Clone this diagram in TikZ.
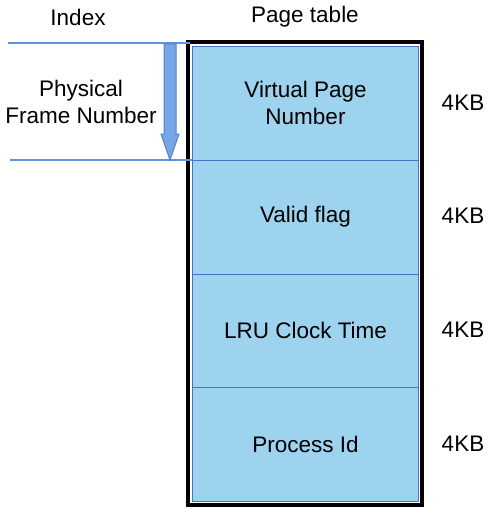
\documentclass[tikz,border=0pt]{standalone}
\usepackage{fontspec}
\setmainfont{Liberation Sans}
\definecolor{cellfill}{RGB}{157,211,238}
\definecolor{celledge}{RGB}{68,114,196}
\definecolor{linecol}{RGB}{96,148,222}
\definecolor{arrowfill}{RGB}{120,165,230}
\definecolor{arrowedge}{RGB}{80,130,210}
\begin{document}
\begin{tikzpicture}[x=1pt,y=-1pt,
  cell/.style={draw=celledge,fill=cellfill,line width=1pt,minimum width=226pt,minimum height=113.75pt,inner sep=0pt,anchor=north west,font=\fontsize{22.5}{26}\selectfont,align=center},
  lbl/.style={font=\fontsize{22.5}{26}\selectfont,align=center,inner sep=0pt},
  guide/.style={draw=linecol,line width=2.8pt}]
\useasboundingbox (0,0) rectangle (493,516);
\node[cell] (c1) at (192,46) {Virtual Page\\[1pt]Number};
\node[cell] (c2) at (192,159.75) {Valid flag};
\node[cell] (c3) at (192,273.5) {LRU Clock Time};
\node[cell] (c4) at (192,387.25) {Process Id};
\draw[line width=3.5pt] (188,42) rectangle (422,505);
\node[lbl] (k1) at (463,103) {4KB};
\node[lbl] (k2) at (463,216) {4KB};
\node[lbl] (k3) at (463,330) {4KB};
\node[lbl] (k4) at (463,444) {4KB};
\node[lbl] (idx) at (78,17) {Index};
\node[lbl] (pt) at (305,17) {Page table};
\node[lbl] (pfn) at (81,102) {Physical\\[1pt]Frame Number};
\coordinate (t0) at (8,43);
\coordinate (t1) at (190,43);
\coordinate (b0) at (10,160);
\coordinate (b1) at (192,160);
\draw[guide] (t0) -- (t1);
\draw[guide] (b0) -- (b1);
\draw[fill=arrowfill,draw=arrowedge,line width=1pt,line join=miter]
  (164,44) -- (176,44) -- (176,134) -- (179,134) -- (170,160) -- (161,134) -- (164,134) -- cycle;
\end{tikzpicture}
\end{document}
